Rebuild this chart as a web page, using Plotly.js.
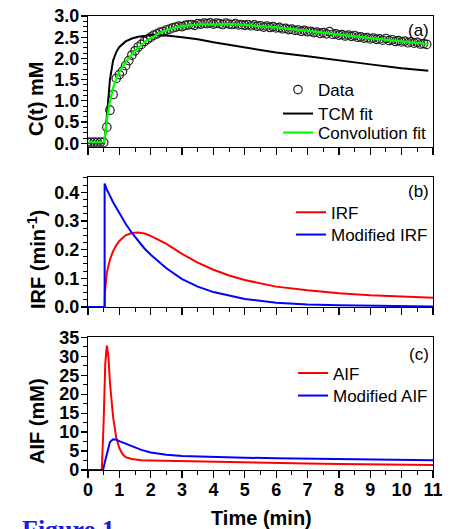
<!DOCTYPE html>
<html>
<head>
<meta charset="utf-8">
<script src="https://cdn.plot.ly/plotly-3.0.1.min.js"></script>
<style>html,body{margin:0;padding:0;background:#fff;}#chart{width:454px;height:529px;}</style>
</head>
<body>
<div id="chart"></div>
<script>
// ---- Panel (a): tissue concentration ----
const tData = [0.0,0.1,0.2,0.3,0.4,0.5,0.6,0.7,0.8,0.9,1.0,1.1,1.2,1.3,1.4,1.5,1.6,1.7,1.8,1.9,
  2.0,2.1,2.2,2.3,2.4,2.5,2.6,2.7,2.8,2.9,3.0,3.1,3.2,3.3,3.4,3.5,3.6,3.7,3.8,3.9,
  4.0,4.1,4.2,4.3,4.4,4.5,4.6,4.7,4.8,4.9,5.0,5.1,5.2,5.3,5.4,5.5,5.6,5.7,5.8,5.9,
  6.0,6.1,6.2,6.3,6.4,6.5,6.6,6.7,6.8,6.9,7.0,7.1,7.2,7.3,7.4,7.5,7.6,7.7,7.8,7.9,
  8.0,8.1,8.2,8.3,8.4,8.5,8.6,8.7,8.8,8.9,9.0,9.1,9.2,9.3,9.4,9.5,9.6,9.7,9.8,9.9,
  10.0,10.1,10.2,10.3,10.4,10.5,10.6,10.7,10.8];
const cData = [0.03,0.02,0.03,0.02,0.03,0.02,0.38,0.78,1.15,1.53,1.62,1.70,1.83,1.95,2.08,2.18,2.27,2.33,2.40,2.45,
  2.50,2.55,2.58,2.62,2.63,2.67,2.69,2.72,2.74,2.76,2.75,2.78,2.79,2.80,2.78,2.82,2.81,2.83,2.82,2.84,
  2.81,2.83,2.82,2.80,2.83,2.81,2.80,2.82,2.79,2.80,2.78,2.80,2.77,2.79,2.76,2.77,2.74,2.76,2.73,2.75,
  2.72,2.73,2.70,2.71,2.68,2.69,2.66,2.67,2.64,2.66,2.63,2.64,2.61,2.62,2.59,2.61,2.58,2.63,2.57,2.58,
  2.55,2.56,2.53,2.55,2.52,2.54,2.50,2.51,2.48,2.49,2.46,2.48,2.45,2.46,2.43,2.47,2.42,2.44,2.40,2.42,
  2.39,2.41,2.37,2.39,2.36,2.38,2.34,2.35,2.33];

const tTcm = [0,0.5,0.55,0.6,0.65,0.7,0.8,0.9,1.0,1.2,1.4,1.6,1.8,2.0,2.2,2.5,3.0,3.5,4.0,5.0,6.0,7.0,8.0,9.0,10.0,10.85];
const cTcm = [0,0,0.2,0.6,1.1,1.5,1.95,2.15,2.27,2.40,2.47,2.51,2.53,2.55,2.55,2.54,2.50,2.45,2.38,2.26,2.14,2.05,1.95,1.86,1.77,1.71];

const tConv = [0,0.5,0.55,0.6,0.7,0.8,0.9,1.0,1.2,1.4,1.6,1.8,2.0,2.3,2.6,3.0,3.5,4.0,4.5,5.0,6.0,7.0,8.0,9.0,10.0,10.85];
const cConv = [0.02,0.02,0.2,0.55,1.0,1.3,1.52,1.68,1.92,2.10,2.25,2.38,2.48,2.60,2.69,2.76,2.80,2.81,2.81,2.79,2.73,2.65,2.56,2.48,2.40,2.34];

// ---- Panel (b): impulse response functions ----
const tIrf = [0,0.53,0.54,0.6,0.7,0.8,0.9,1.0,1.2,1.4,1.6,1.8,2.0,2.5,3.0,3.5,4.0,4.5,5.0,6.0,7.0,8.0,9.0,10.0,11.0];
const vIrf = [0,0,0.05,0.12,0.165,0.195,0.215,0.23,0.25,0.258,0.26,0.256,0.248,0.22,0.185,0.155,0.13,0.11,0.094,0.071,0.058,0.048,0.041,0.036,0.032];

const tModIrf = [0,0.53,0.53,0.6,0.8,1.0,1.2,1.4,1.6,1.8,2.0,2.5,3.0,3.5,4.0,5.0,6.0,7.0,8.0,9.0,10.0,11.0];
const vModIrf = [0,0,0.43,0.41,0.365,0.325,0.29,0.258,0.23,0.204,0.182,0.135,0.097,0.071,0.052,0.028,0.015,0.009,0.006,0.004,0.003,0.002];

// ---- Panel (c): arterial input functions ----
const tAif = [0,0.44,0.5,0.55,0.6,0.65,0.7,0.8,0.9,1.0,1.1,1.2,1.4,1.7,2.0,3.0,4.0,5.0,6.0,7.0,8.0,9.0,10.0,11.0];
const vAif = [0,0,13,28,32.8,30,23,14,8.5,5.8,4.2,3.4,2.9,2.6,2.5,2.3,2.1,1.95,1.8,1.7,1.6,1.5,1.4,1.3];

const tModAif = [0,0.48,0.55,0.6,0.7,0.8,0.9,1.0,1.2,1.4,1.7,2.0,2.5,3.0,4.0,5.0,6.0,7.0,8.0,9.0,10.0,11.0];
const vModAif = [0,0,2.5,4.4,7.4,8.1,8.0,7.6,6.9,6.2,5.3,4.6,4.0,3.7,3.4,3.25,3.1,3.0,2.9,2.8,2.7,2.6];

// ---- Tick labels ----
const xTicks = [0,1,2,3,4,5,6,7,8,9,10,11];
const yTicksA = [0.0,0.5,1.0,1.5,2.0,2.5,3.0];
const yTicksB = [0.0,0.1,0.2,0.3,0.4];
const yTicksC = [0,5,10,15,20,25,30,35];

const FONT = 'Liberation Sans, Arial, sans-serif';
const tickFont = {family: FONT, size: 18, color: '#000', weight: 'bold'};
const legFont = {family: FONT, size: 17, color: '#000'};

const traces = [
  {x: tData, y: cData, mode: 'markers', name: 'Data', xaxis: 'x', yaxis: 'y', legend: 'legend',
   marker: {symbol: 'circle-open', size: 8.5, color: '#222', line: {width: 1.2, color: '#222'}}},
  {x: tTcm, y: cTcm, mode: 'lines', name: 'TCM fit', xaxis: 'x', yaxis: 'y', legend: 'legend2',
   line: {color: '#000', width: 2}},
  {x: tConv, y: cConv, mode: 'lines', name: 'Convolution fit', xaxis: 'x', yaxis: 'y', legend: 'legend3',
   line: {color: '#00ff00', width: 2.2}},
  {x: tIrf, y: vIrf, mode: 'lines', name: 'IRF', xaxis: 'x2', yaxis: 'y2', legend: 'legend4',
   line: {color: '#ff0000', width: 2}},
  {x: tModIrf, y: vModIrf, mode: 'lines', name: 'Modified IRF', xaxis: 'x2', yaxis: 'y2', legend: 'legend5',
   line: {color: '#0000ff', width: 2}},
  {x: tAif, y: vAif, mode: 'lines', name: 'AIF', xaxis: 'x3', yaxis: 'y3', legend: 'legend6',
   line: {color: '#ff0000', width: 2}},
  {x: tModAif, y: vModAif, mode: 'lines', name: 'Modified AIF', xaxis: 'x3', yaxis: 'y3', legend: 'legend7',
   line: {color: '#0000ff', width: 2}}
];

function xAxis(anchor, showLabels) {
  return {
    anchor: anchor, range: [0, 11], tickmode: 'array', tickvals: xTicks,
    ticktext: xTicks.map(String), showticklabels: showLabels,
    ticks: 'outside', ticklen: 7, tickwidth: 1.2, tickcolor: '#000',
    minor: {dtick: 0.5, ticks: 'outside', ticklen: 4, tickwidth: 1, tickcolor: '#000'},
    showline: true, linecolor: '#000', linewidth: 1.2, mirror: true,
    showgrid: false, zeroline: false, tickfont: tickFont, ticklabelstandoff: -4
  };
}
function yAxis(anchor, domain, range, vals, fmt, minorStep) {
  return {
    anchor: anchor, domain: domain, range: range, tickmode: 'array', tickvals: vals,
    ticktext: vals.map(v => fmt(v)),
    ticks: 'outside', ticklen: 6, tickwidth: 1.2, tickcolor: '#000',
    minor: {dtick: minorStep, ticks: 'outside', ticklen: 3.5, tickwidth: 1, tickcolor: '#000'},
    showline: true, linecolor: '#000', linewidth: 1.2, mirror: true,
    showgrid: false, zeroline: false, tickfont: tickFont, ticklabelstandoff: -2
  };
}

function pyToPaper(py) { return (470 - py) / 454; }
function pxToPaper(px) { return (px - 88) / 345; }

// legend placed so that its text starts at textX px and its row is centred on rowY px
function legendAt(textX, rowY) {
  return {x: pxToPaper(textX - 40), y: pyToPaper(rowY), xanchor: 'left', yanchor: 'middle',
    bgcolor: 'rgba(0,0,0,0)', borderwidth: 0, font: legFont, itemwidth: 30};
}

const annFont = {family: FONT, size: 20, color: '#000', weight: 'bold'};
const panelFont = {family: FONT, size: 17, color: '#000'};

const layout = {
  width: 454, height: 529,
  margin: {l: 88, r: 21, t: 16, b: 59, pad: 0},
  paper_bgcolor: '#fff', plot_bgcolor: '#fff',
  showlegend: true,
  xaxis: xAxis('y', false),
  xaxis2: xAxis('y2', false),
  xaxis3: xAxis('y3', true),
  yaxis: yAxis('x', [0.7121, 1.0], [-0.08, 3.0], yTicksA, v => v.toFixed(1), 0.125),
  yaxis2: yAxis('x2', [0.359, 0.6447], [0, 0.452], yTicksB, v => v.toFixed(1), 0.025),
  yaxis3: yAxis('x3', [0, 0.2923], [0, 35], yTicksC, v => String(v), 2.5),
  legend: legendAt(318, 90),
  legend2: legendAt(318, 114),
  legend3: legendAt(318, 133),
  legend4: legendAt(331, 212.7),
  legend5: legendAt(331, 235),
  legend6: legendAt(333, 373.5),
  legend7: legendAt(333, 396),
  annotations: [
    {text: 'C(t) mM', textangle: -90, xref: 'paper', yref: 'paper', x: pxToPaper(36), y: pyToPaper(99),
     xanchor: 'center', yanchor: 'middle', showarrow: false, font: annFont},
    {text: 'IRF (min<sup>-1</sup>)', textangle: -90, xref: 'paper', yref: 'paper', x: pxToPaper(36), y: pyToPaper(260),
     xanchor: 'center', yanchor: 'middle', showarrow: false, font: annFont},
    {text: 'AIF (mM)', textangle: -90, xref: 'paper', yref: 'paper', x: pxToPaper(37), y: pyToPaper(421),
     xanchor: 'center', yanchor: 'middle', showarrow: false, font: annFont},
    {text: 'Time (min)', xref: 'paper', yref: 'paper', x: pxToPaper(261), y: pyToPaper(518),
     xanchor: 'center', yanchor: 'middle', showarrow: false, font: annFont},
    {text: '(a)', xref: 'paper', yref: 'paper', x: pxToPaper(431), y: pyToPaper(30.5),
     xanchor: 'right', yanchor: 'middle', showarrow: false, font: panelFont},
    {text: '(b)', xref: 'paper', yref: 'paper', x: pxToPaper(431), y: pyToPaper(191.7),
     xanchor: 'right', yanchor: 'middle', showarrow: false, font: panelFont},
    {text: '(c)', xref: 'paper', yref: 'paper', x: pxToPaper(431), y: pyToPaper(354),
     xanchor: 'right', yanchor: 'middle', showarrow: false, font: panelFont},
    {text: 'Figure 1', xref: 'paper', yref: 'paper', x: pxToPaper(20), y: pyToPaper(513),
     xanchor: 'left', yanchor: 'top', showarrow: false,
     font: {family: 'Liberation Serif, Times New Roman, serif', size: 26, color: '#1a1ae6', weight: 'bold'}}
  ]
};

Plotly.newPlot('chart', traces, layout, {displayModeBar: false, staticPlot: true});
</script>
</body>
</html>
